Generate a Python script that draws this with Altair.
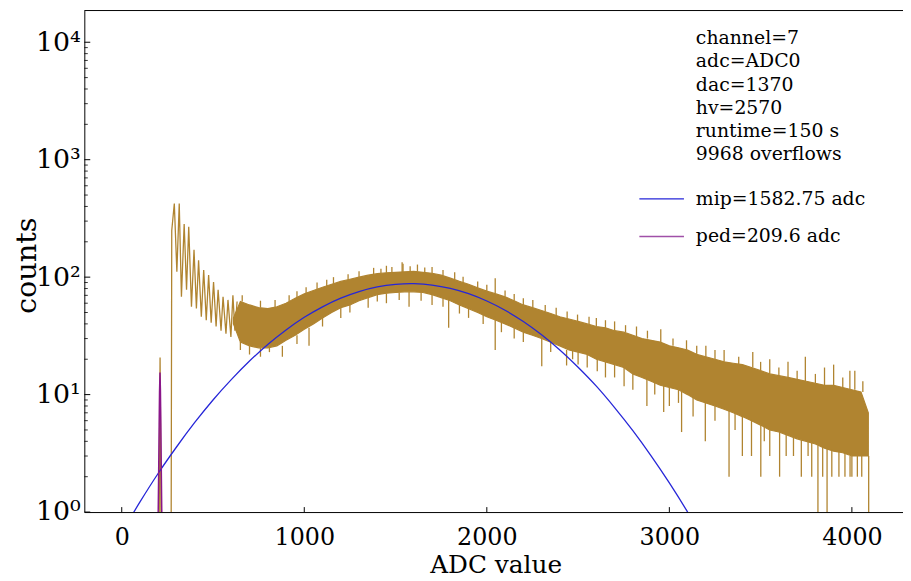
import altair as alt
import pandas as pd

# ---------------- data ----------------
# explicit histogram trace in the low-ADC region (pedestal spike + zig-zag)
trace_adc = [0, 204, 207, 210, 213, 216, 270, 274, 288, 302, 315, 327, 342, 355, 367,
             382, 396, 409, 421, 436, 449, 463, 476, 490, 503, 517, 528, 544, 555,
             571, 582, 598, 609, 620, 632]
trace_counts = [0, 0, 4, 20.7, 4, 0, 0, 250, 424, 111, 424, 68, 284, 78, 269,
                56, 171, 54, 139, 46, 115, 43, 104, 41, 91, 38, 78, 35, 68,
                33, 64, 31, 70, 35, 62]

# dense noisy band of the histogram: lower / upper envelope
band_adc = [612, 650, 700, 750, 800, 850, 900, 950, 1000, 1050, 1100, 1150, 1200, 1250,
            1300, 1350, 1400, 1450, 1500, 1550, 1600, 1650, 1700, 1750, 1800, 1850,
            1900, 1950, 2000, 2050, 2100, 2150, 2200, 2250, 2300, 2350, 2400, 2450,
            2500, 2550, 2600, 2650, 2700, 2750, 2800, 2850, 2900, 2950, 3000, 3050,
            3100, 3150, 3200, 3250, 3300, 3350, 3400, 3450, 3500, 3550, 3600, 3650,
            3700, 3750, 3800, 3850, 3900, 3950, 4000, 4050, 4090]
band_low = [40, 28, 26, 25, 25, 26, 29, 32, 36, 40, 45, 50, 55, 58,
            63, 67, 71, 73, 74, 75, 75, 74, 71, 67, 63, 58,
            54, 50, 46, 43, 40, 37, 34, 32, 30, 28, 26, 24,
            23, 22, 20, 19, 18, 17, 15, 14, 13, 12, 11.5, 11,
            10, 9, 8.5, 8, 7.5, 7, 6.5, 6, 5.5, 5, 4.8, 4.5,
            4.2, 4, 3.8, 3.5, 3.3, 3.2, 3, 3, 3]
band_high = [45, 62, 58, 55, 54, 56, 60, 66, 72, 77, 82, 87, 92, 96,
             100, 104, 107, 109, 110, 111, 112, 110, 108, 104, 98, 92,
             87, 81, 76, 72, 68, 63, 58, 55, 52, 49, 46, 44,
             42, 40, 38, 37, 35, 34, 32, 30, 29, 28, 26, 25,
             24, 22, 21, 20, 19, 18.5, 18, 17, 16, 15, 14.5, 14,
             13.5, 13, 12.5, 12, 12, 11.5, 11, 10.5, 7]

# isolated spikes sticking out of the band: position, band edge, tip
spike_adc = [917, 1123, 1380, 1450, 1536, 1541, 1620, 1700, 1824, 1950, 2046, 2150,
             2252, 2380, 2497, 2600, 2700, 2820, 2953, 3094, 3200, 3300, 3457, 3550,
             3650, 3745, 3850, 3900, 3989, 4016,
             660, 760, 840, 960, 1010, 1070, 1160, 1240, 1300, 1420, 1480, 1580,
             1660, 1760, 1870, 2000, 2100, 2200, 2320, 2440, 2560, 2650, 2760, 2880,
             3020, 3150, 3250, 3380, 3500, 3600, 3700, 3800, 3950, 4060,
             700, 809, 880, 1026, 1200, 1350, 1450, 1574, 1700, 1791, 1900, 2046,
             2150, 2301, 2437, 2500, 2550, 2605, 2650, 2752, 2800, 2877, 2969, 3000,
             3067, 3130, 3197, 3327, 3400, 3450, 3501, 3550, 3604, 3680, 3723, 3780,
             3814, 3864, 3890, 3929, 3962, 4000, 4054, 4092,
             650, 760, 960, 1100, 1250, 1400, 1520, 1640, 1760, 1850, 1980, 2080,
             2200, 2350, 2470, 2700, 2920, 3050, 3250, 3360, 3520, 3640, 3760, 3840,
             3990, 4030]
spike_base = [62, 84, 105, 109, 110, 110, 112, 108, 95, 81, 73, 63,
              55, 47, 42, 38, 35, 31, 28, 24, 21, 19, 17, 15,
              14, 13, 12, 12, 11, 11,
              62, 55, 55, 67, 72, 79, 88, 95, 100, 108, 110, 111,
              110, 103, 90, 76, 68, 58, 51, 44, 40, 37, 34, 30,
              26, 22, 20, 18, 16, 14.5, 13.5, 12.5, 11.5, 10.5,
              26, 25, 26, 37, 55, 67, 73, 75, 71, 68, 54, 46,
              37, 30, 24, 23, 22, 20, 19, 17, 15, 14, 12, 11.5,
              11, 10, 8.5, 7.5, 6.5, 6, 5.5, 5, 4.8, 4.4, 4.1, 3.9,
              3.7, 3.5, 3.4, 3.3, 3.2, 3, 3, 3,
              28, 25, 32, 45, 58, 71, 74, 74, 66, 58, 48, 41,
              34, 28, 24, 18, 13, 11, 8, 7, 5.4, 4.6, 4, 3.6,
              3, 3]
spike_tip = [70, 95, 120, 125, 134, 130, 128, 122, 110, 92, 98, 72,
             64, 55, 48, 45, 42, 38, 36, 29, 26, 24, 23, 20,
             19, 21, 17, 18, 16, 16,
             70, 63, 64, 76, 82, 90, 100, 106, 112, 118, 122, 124,
             121, 115, 101, 86, 77, 66, 58, 51, 46, 43, 39, 35,
             30, 26, 24, 21, 19, 17, 16, 15, 14, 13,
             22, 23, 21, 26, 45, 55, 60, 56, 58, 37, 45, 24,
             30, 17.4, 17.7, 18, 17, 15.8, 14, 11.8, 11, 8, 7.1, 8,
             4.8, 6.5, 4, 2, 3, 3, 2, 3, 2, 3, 2, 2,
             0, 0, 2, 2, 2, 2, 2, 0,
             24, 21, 27, 38, 50, 62, 64, 63, 56, 49, 40, 34,
             28, 23, 20, 14, 10, 8.5, 6, 5, 4, 3, 3, 2,
             2, 2]

# fitted MIP gaussian (blue) and pedestal gaussian (purple)
mip_adc = [0, 100, 200, 300, 400, 500, 600, 700, 800, 900, 1000, 1100, 1200, 1300,
           1400, 1500, 1583, 1600, 1700, 1800, 1900, 2000, 2100, 2200, 2300, 2400,
           2500, 2600, 2700, 2800, 2900, 3000, 3100, 3200]
mip_counts = [0.67, 1.22, 2.14, 3.58, 5.79, 9.0, 13.4, 19.3, 26.7, 35.5, 45.5, 55.9,
              66.2, 75.3, 82.5, 86.8, 88.0, 87.9, 85.7, 80.3, 72.4, 62.7, 52.3, 41.9,
              32.3, 24.0, 17.1, 11.8, 7.76, 4.93, 3.01, 1.77, 1.0, 0.54]
ped_adc = [199, 202, 205, 207, 209.6, 212, 214, 217, 220]
ped_counts = [0.8, 2.0, 5.6, 10.5, 15.4, 10.8, 6.0, 2.1, 0.8]

info_lines = ["channel=7", "adc=ADC0", "dac=1370", "hv=2570",
              "runtime=150 s", "9968 overflows"]
legend_labels = ["mip=1582.75 adc", "ped=209.6 adc"]

x_ticks = [0, 1000, 2000, 3000, 4000]
y_ticks = [1, 10, 100, 1000, 10000]

# ---------------- styling ----------------
W, H = 826, 506
GOLD = "#b08430"
BLUE = "#2626d8"
PURPLE = "#8a168a"
FONT = "DejaVu Serif"

xs = alt.Scale(domain=[-205, 4280], nice=False, zero=False)
ys = alt.Scale(type="log", domain=[1, 18620], nice=False)

trace_df = pd.DataFrame({"adc": trace_adc, "counts": trace_counts})
band_df = pd.DataFrame({"adc": band_adc, "low": band_low, "high": band_high})
spike_df = pd.DataFrame({"adc": spike_adc, "base": spike_base, "tip": spike_tip})
mip_df = pd.DataFrame({"adc": mip_adc, "counts": mip_counts})
ped_df = pd.DataFrame({"adc": ped_adc, "counts": ped_counts})

x_axis = alt.Axis(values=x_ticks, format="d", ticks=False, labelFont=FONT,
                  labelFontSize=24, labelColor="black", labelPadding=14,
                  title="ADC value", titleFont=FONT, titleFontSize=25,
                  titleFontWeight="normal", titleColor="black",
                  titleBaseline="middle", titleY=53, titleX=W / 2 + 2,
                  domainColor="black", domainWidth=1, grid=False, labelFlush=False)
y_axis = alt.Axis(values=y_ticks, ticks=False, labelFont=FONT, labelFontSize=27,
                  labelColor="black", labelPadding=4,
                  labelExpr="datum.value == 1 ? '10⁰' : datum.value == 10 ? '10¹' : "
                            "datum.value == 100 ? '10²' : datum.value == 1000 ? '10³' : '10⁴'",
                  title="counts", titleFont=FONT, titleFontSize=29,
                  titleFontWeight="normal", titleColor="black",
                  titleBaseline="middle", titleX=-58, titleY=H / 2 + 4, titleAngle=-90,
                  domainColor="black", domainWidth=1, grid=False, labelFlush=False)

trace = alt.Chart(trace_df).transform_calculate(
    c="max(datum.counts, 0.2)"
).mark_line(color=GOLD, strokeWidth=1.3, clip=True).encode(
    x=alt.X("adc:Q", scale=xs, axis=x_axis),
    y=alt.Y("c:Q", scale=ys, axis=y_axis),
)

band = alt.Chart(band_df).mark_area(color=GOLD, opacity=1, clip=True,
                                    stroke=GOLD, strokeWidth=1.2).encode(
    x=alt.X("adc:Q", scale=xs),
    y=alt.Y("low:Q", scale=ys),
    y2="high:Q",
)

spikes = alt.Chart(spike_df).transform_calculate(
    t="max(datum.tip, 0.2)"
).mark_rule(color=GOLD, strokeWidth=1.3, clip=True).encode(
    x=alt.X("adc:Q", scale=xs),
    y=alt.Y("base:Q", scale=ys),
    y2="t:Q",
)

mip = alt.Chart(mip_df).mark_line(color=BLUE, strokeWidth=1.3, clip=True,
                                  interpolate="monotone").encode(
    x=alt.X("adc:Q", scale=xs),
    y=alt.Y("counts:Q", scale=ys),
)

ped = alt.Chart(ped_df).mark_line(color=PURPLE, strokeWidth=1.5, clip=True).encode(
    x=alt.X("adc:Q", scale=xs),
    y=alt.Y("counts:Q", scale=ys),
)

# inward tick marks (matplotlib style)
xt = alt.Chart(pd.DataFrame({"v": x_ticks})).mark_rule(color="black", strokeWidth=1).encode(
    x=alt.X("v:Q", scale=xs), y=alt.value(H), y2=alt.value(H - 5))
yt = alt.Chart(pd.DataFrame({"v": y_ticks})).mark_rule(color="black", strokeWidth=1).encode(
    y=alt.Y("v:Q", scale=ys), x=alt.value(0), x2=alt.value(6))
minor = [m * 10 ** k for k in range(5) for m in range(2, 10) if m * 10 ** k < 18620]
ymt = alt.Chart(pd.DataFrame({"v": minor})).mark_rule(color="black", strokeWidth=0.8).encode(
    y=alt.Y("v:Q", scale=ys), x=alt.value(0), x2=alt.value(3.5))

top = alt.Chart(pd.DataFrame({"a": [0]})).mark_rule(color="black", strokeWidth=1).encode(
    x=alt.value(0), x2=alt.value(W), y=alt.value(0))

layers = [band, spikes, trace, mip, ped, xt, yt, ymt, top]

# text block and legend
TX = 617
for i, line in enumerate(info_lines):
    layers.append(alt.Chart(pd.DataFrame({"t": [line]})).mark_text(
        font=FONT, fontSize=19, align="left", baseline="middle", color="black"
    ).encode(text="t:N", x=alt.value(TX), y=alt.value(28 + i * 23.4)))
for j, (lab, col) in enumerate(zip(legend_labels, [BLUE, "#a050a8"])):
    yy = 190 + j * 38
    layers.append(alt.Chart(pd.DataFrame({"t": [lab]})).mark_text(
        font=FONT, fontSize=19, align="left", baseline="middle", color="black"
    ).encode(text="t:N", x=alt.value(TX), y=alt.value(yy)))
    layers.append(alt.Chart(pd.DataFrame({"t": [lab]})).mark_rule(
        color=col, strokeWidth=1.3
    ).encode(x=alt.value(560), x2=alt.value(605), y=alt.value(yy)))

chart = alt.layer(*layers).properties(
    width=W, height=H,
    autosize=alt.AutoSizeParams(type="none"),
    padding={"left": 77, "top": 0, "right": 0, "bottom": 67},
    background="white",
).configure_view(stroke=None)

chart.save("out.html", embed_options={"renderer": "svg", "actions": False})
